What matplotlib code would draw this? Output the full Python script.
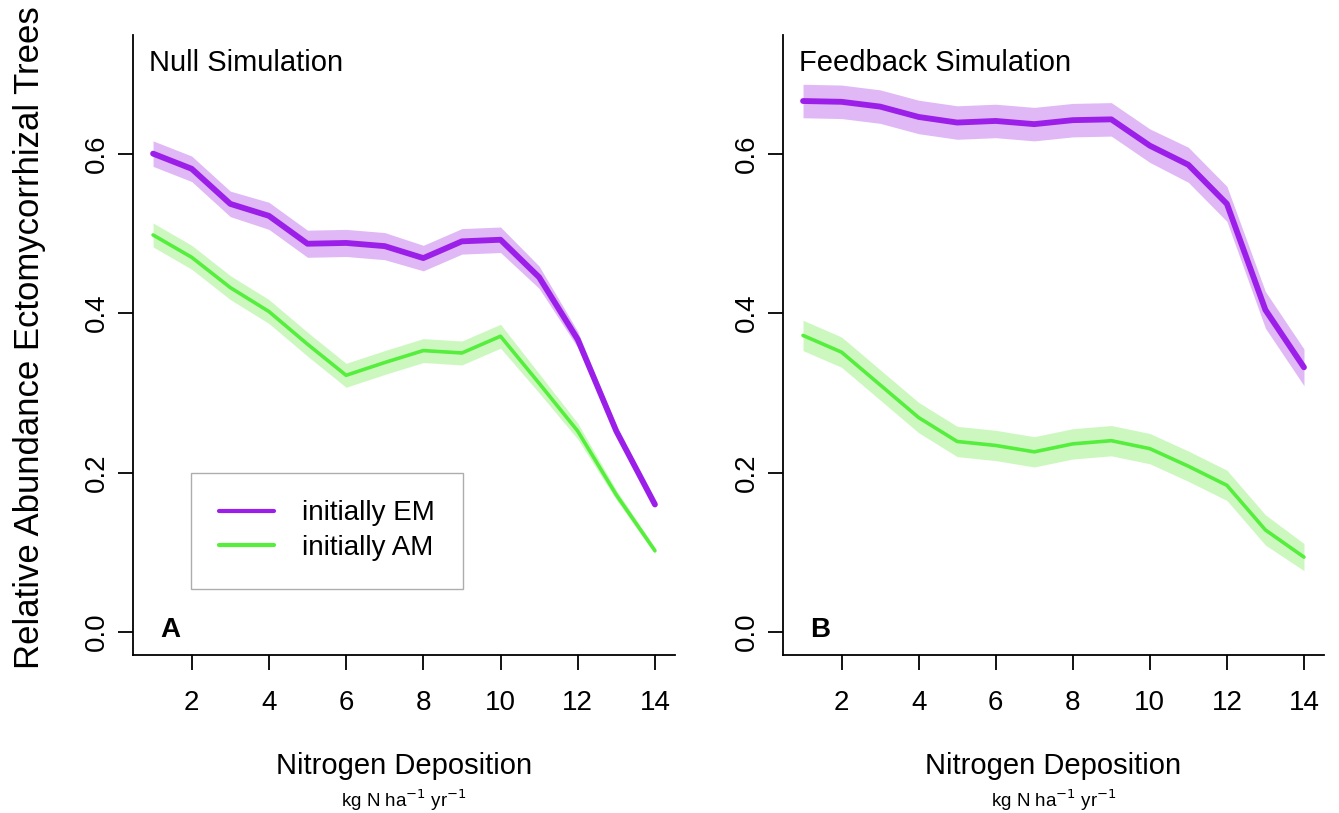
import numpy as np
import matplotlib
matplotlib.use("Agg")
import matplotlib.pyplot as plt

plt.rcParams['font.family'] = ['Liberation Sans', 'DejaVu Sans']

dep = np.arange(1, 15)
xticks = [2, 4, 6, 8, 10, 12, 14]
yticks = [0.0, 0.2, 0.4, 0.6]

# null simulation
null_em = [0.600, 0.581, 0.537, 0.522, 0.487, 0.488, 0.484, 0.469, 0.490, 0.492, 0.445, 0.367, 0.252, 0.160]
null_em_se = [0.016, 0.016, 0.016, 0.017, 0.017, 0.017, 0.017, 0.016, 0.016, 0.016, 0.014, 0.010, 0.006, 0.004]
null_am = [0.498, 0.470, 0.432, 0.402, 0.361, 0.322, 0.338, 0.353, 0.350, 0.371, 0.312, 0.252, 0.172, 0.102]
null_am_se = [0.015, 0.015, 0.015, 0.015, 0.015, 0.015, 0.015, 0.015, 0.015, 0.015, 0.012, 0.010, 0.006, 0.004]

# feedback simulation
fb_em = [0.666, 0.665, 0.659, 0.646, 0.639, 0.641, 0.637, 0.642, 0.643, 0.610, 0.586, 0.537, 0.404, 0.332]
fb_em_se = [0.021, 0.021, 0.021, 0.021, 0.021, 0.021, 0.021, 0.021, 0.021, 0.021, 0.022, 0.022, 0.023, 0.023]
fb_am = [0.372, 0.351, 0.310, 0.269, 0.239, 0.234, 0.226, 0.236, 0.240, 0.230, 0.208, 0.184, 0.128, 0.094]
fb_am_se = [0.019, 0.019, 0.019, 0.019, 0.019, 0.019, 0.019, 0.019, 0.019, 0.019, 0.019, 0.019, 0.019, 0.017]

em_col = '#9b1fe8'
am_col = '#55ee3c'
em_fill = '#e0b8f5'
am_fill = '#ccf8c0'

fig = plt.figure(figsize=(13.39, 8.13), dpi=100)
axA = fig.add_axes([133/1339, 1-655/813, 542/1339, 620/813])
axB = fig.add_axes([783/1339, 1-655/813, 541/1339, 620/813])

panels = [
    (axA, null_em, null_em_se, null_am, null_am_se, 'Null Simulation', 'A'),
    (axB, fb_em, fb_em_se, fb_am, fb_am_se, 'Feedback Simulation', 'B'),
]

for ax, em, em_se, am, am_se, title, letter in panels:
    em = np.array(em); am = np.array(am)
    ax.fill_between(dep, em - em_se, em + em_se, color=em_fill, lw=0)
    ax.fill_between(dep, am - am_se, am + am_se, color=am_fill, lw=0)
    ax.plot(dep, em, color=em_col, lw=4.2, solid_capstyle='round', label='initially EM')
    ax.plot(dep, am, color=am_col, lw=2.6, solid_capstyle='round', label='initially AM')
    ax.set_xlim(0.48, 14.52)
    ax.set_ylim(-0.0288, 0.7488)
    for s in ['top', 'right']:
        ax.spines[s].set_visible(False)
    for s in ['left', 'bottom']:
        ax.spines[s].set_linewidth(1.3)
    ax.set_xticks(xticks)
    ax.set_yticks(yticks)
    ax.set_yticklabels(['%.1f' % v for v in yticks], rotation=90, va='center')
    ax.tick_params(axis='both', length=11, width=1.3, labelsize=20)
    ax.tick_params(axis='x', pad=14)
    ax.tick_params(axis='y', pad=6)
    ax.text(0.03, 0.955, title, transform=ax.transAxes, fontsize=21, va='center')
    ax.text(0.05, 0.04, letter, transform=ax.transAxes, fontsize=20, fontweight='bold', va='center')
    ax.text(0.5, -0.179, 'Nitrogen Deposition', transform=ax.transAxes, fontsize=21,
            ha='center', va='center')
    ax.text(0.5, -0.235, 'kg N ha$^{-1}$ yr$^{-1}$', transform=ax.transAxes, fontsize=13.5,
            ha='center', va='center')

fig.text(30/1339, 1-338/813, 'Relative Abundance Ectomycorrhizal Trees', rotation=90,
         fontsize=25, ha='center', va='center')

leg = axA.legend(loc='upper left', bbox_to_anchor=(0.107, 0.294), fontsize=20,
                 frameon=True, fancybox=False, edgecolor='#999999', borderpad=1.0,
                 handlelength=2.0, handletextpad=1.0, labelspacing=0.3, borderaxespad=0)
leg.get_frame().set_linewidth(1.0)
for line in leg.get_lines():
    line.set_linewidth(3)

fig.savefig('out.png', dpi=100)
